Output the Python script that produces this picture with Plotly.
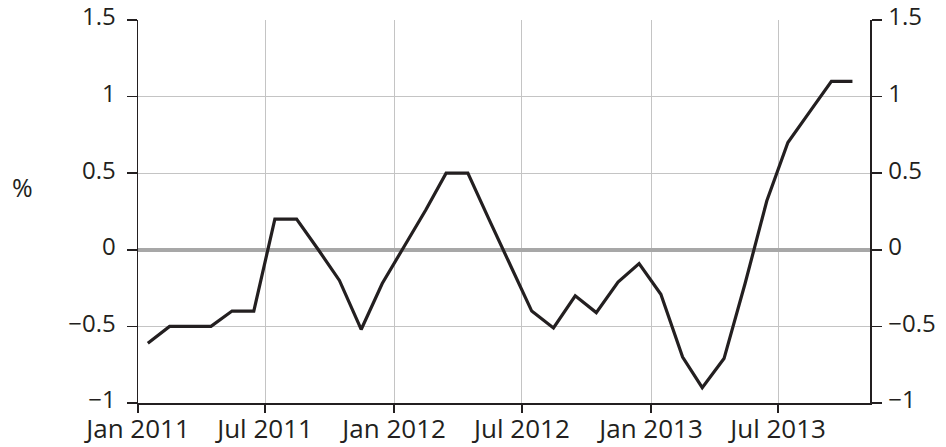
import plotly.graph_objects as go

dates = [
    "2011-01-15", "2011-02-15", "2011-03-15", "2011-04-15", "2011-05-15", "2011-06-15",
    "2011-07-15", "2011-08-15", "2011-09-15", "2011-10-15", "2011-11-15", "2011-12-15",
    "2012-01-15", "2012-02-15", "2012-03-15", "2012-04-15", "2012-05-15", "2012-06-15",
    "2012-07-15", "2012-08-15", "2012-09-15", "2012-10-15", "2012-11-15", "2012-12-15",
    "2013-01-15", "2013-02-15", "2013-03-15", "2013-04-15", "2013-05-15", "2013-06-15",
    "2013-07-15", "2013-08-15", "2013-09-15", "2013-10-15",
]
values = [
    -0.61, -0.50, -0.50, -0.50, -0.40, -0.40,
    0.20, 0.20, 0.00, -0.20, -0.52, -0.22,
    0.02, 0.26, 0.50, 0.50, 0.20, -0.10,
    -0.40, -0.51, -0.30, -0.41, -0.21, -0.09,
    -0.29, -0.70, -0.90, -0.71, -0.22, 0.32,
    0.70, 0.90, 1.10, 1.10,
]
x_tick_vals = ["2011-01-01", "2011-07-01", "2012-01-01", "2012-07-01", "2013-01-01", "2013-07-01"]
x_tick_text = ["Jan 2011", "Jul 2011", "Jan 2012", "Jul 2012", "Jan 2013", "Jul 2013"]
y_tick_vals = [-1, -0.5, 0, 0.5, 1, 1.5]
y_tick_text = ["\u22121", "\u22120.5", "0", "0.5", "1", "1.5"]
y_unit = "%"

INK = "#231f20"
GRID = "#c4c4c4"
FONT = "Open Sans"

fig = go.Figure()
fig.add_trace(go.Scatter(
    x=dates, y=values, mode="lines",
    line=dict(color=INK, width=3.2),
    showlegend=False, hoverinfo="x+y",
))
fig.add_trace(go.Scatter(
    x=dates, y=values, mode="lines", yaxis="y2",
    line=dict(color="rgba(0,0,0,0)", width=0),
    showlegend=False, hoverinfo="skip",
))

yaxis_common = dict(
    range=[-1, 1.5],
    tickvals=y_tick_vals, ticktext=y_tick_text,
    ticks="outside", ticklen=10, tickwidth=1.5, tickcolor=INK,
    showline=True, linecolor=INK, linewidth=1.5,
    tickfont=dict(family=FONT, size=24, color=INK),
    fixedrange=True, automargin=False,
    ticklabeloverflow="allow",
    ticklabelshift=-3,
)

fig.update_layout(
    template="none",
    width=946, height=447,
    margin=dict(l=138, r=76, t=20, b=44, pad=0),
    paper_bgcolor="white", plot_bgcolor="white",
    font=dict(family=FONT, color=INK, size=25),
    showlegend=False,
    xaxis=dict(
        type="date",
        range=["2011-01-01", "2013-11-09"],
        tickvals=x_tick_vals, ticktext=x_tick_text,
        ticks="outside", ticklen=8, tickwidth=1.5, tickcolor=INK,
        showline=True, linecolor=INK, linewidth=1.5,
        showgrid=True, gridcolor=GRID, gridwidth=1,
        tickfont=dict(family=FONT, size=26, color=INK),
        zeroline=False, automargin=False, fixedrange=True,
        ticklabelstandoff=-6, ticklabeloverflow="allow",
    ),
    yaxis=dict(
        **yaxis_common,
        side="left",
        showgrid=True, gridcolor=GRID, gridwidth=1,
        zeroline=True, zerolinecolor="#a7a7a7", zerolinewidth=4,
        ticklabelstandoff=6,
    ),
    yaxis2=dict(
        **yaxis_common,
        side="right", overlaying="y",
        showgrid=False, zeroline=False,
        ticklabelstandoff=2,
    ),
    annotations=[dict(
        text=y_unit, xref="paper", yref="paper",
        x=-0.158, y=0.565, xanchor="center", yanchor="middle",
        showarrow=False, font=dict(family=FONT, size=25, color=INK),
    )],
)

fig.write_html(
    "out.html",
    config={"displayModeBar": False, "staticPlot": True},
    post_script="document.body.style.margin='0';",
)
